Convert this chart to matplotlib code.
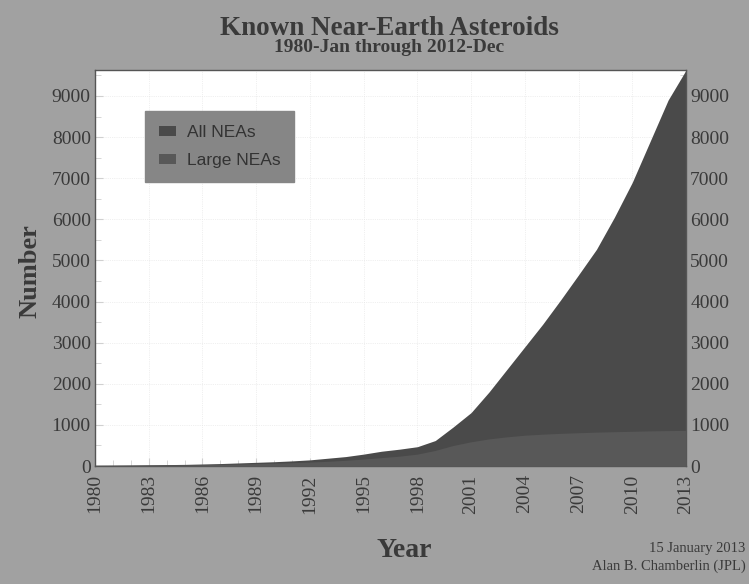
import matplotlib
matplotlib.use("Agg")
import matplotlib.pyplot as plt
from matplotlib.patches import Patch

years = list(range(1980, 2014))
all_neas = [20, 22, 25, 30, 35, 40, 50, 60, 75, 90, 105, 125, 150, 190, 230, 290,
            360, 410, 470, 620, 950, 1300, 1800, 2350, 2900, 3450, 4040, 4650,
            5270, 6050, 6900, 7900, 8900, 9630]
large_neas = [15, 17, 19, 22, 26, 30, 35, 42, 50, 60, 70, 82, 97, 115, 140, 170,
              205, 240, 290, 380, 500, 590, 660, 710, 750, 775, 795, 810, 825,
              835, 845, 855, 862, 868]
xtick_years = list(range(1980, 2014, 3))
yticks = list(range(0, 10000, 1000))

serif = ["Liberation Serif", "DejaVu Serif"]
fig_bg = "#a1a1a1"
txt = "#3a3a3a"

fig = plt.figure(figsize=(7.49, 5.84), dpi=100, facecolor=fig_bg)
ax = fig.add_axes([0.1268, 0.202, 0.7891, 0.678])
ax.set_facecolor("white")

ax.fill_between(years, 0, all_neas, color="#4a4a4a", linewidth=0, zorder=2)
ax.fill_between(years, 0, large_neas, color="#585858", linewidth=0, zorder=3)

ax.set_xlim(1980, 2013)
ax.set_ylim(0, max(all_neas))
ax.set_xticks(xtick_years)
ax.set_xticks(years, minor=True)
ax.set_xticklabels([str(y) for y in xtick_years], rotation=90,
                   family=serif, fontsize=14, color=txt)
ax.set_yticks(yticks)
ax.set_yticks(list(range(0, 10000, 500)), minor=True)
ax.set_yticklabels([str(v) for v in yticks], family=serif, fontsize=14, color=txt)
ax.tick_params(axis="both", which="both", direction="in", color="#d0d0d0",
               labelright=True, right=True, top=False)
ax.tick_params(axis="y", which="major", length=6, width=0.8, pad=3)
ax.tick_params(axis="x", which="major", length=6, width=0.8, pad=6)
ax.tick_params(axis="both", which="minor", length=4, width=0.6)

ax.grid(True, which="major", color="#e2e2e2", linewidth=0.5, linestyle=":", zorder=1)
ax.set_axisbelow(True)
for s in ax.spines.values():
    s.set_color("#555555")
    s.set_linewidth(1.0)

fig.text(0.520, 0.952, "Known Near-Earth Asteroids", ha="center", va="center",
         family=serif, fontsize=19.5, fontweight="bold", color=txt)
fig.text(0.520, 0.918, "1980-Jan through 2012-Dec", ha="center", va="center",
         family=serif, fontsize=14, fontweight="bold", color=txt)
fig.text(0.040, 0.535, "Number", ha="center", va="center", rotation=90,
         family=serif, fontsize=19, fontweight="bold", color=txt)
fig.text(0.540, 0.058, "Year", ha="center", va="center",
         family=serif, fontsize=20, fontweight="bold", color=txt)
fig.text(0.995, 0.061, "15 January 2013", ha="right", va="center",
         family=serif, fontsize=10.5, color=txt)
fig.text(0.995, 0.030, "Alan B. Chamberlin (JPL)", ha="right", va="center",
         family=serif, fontsize=10.5, color=txt)

handles = [Patch(facecolor="#4a4a4a", edgecolor="none", label="All NEAs"),
           Patch(facecolor="#585858", edgecolor="none", label="Large NEAs")]
leg = ax.legend(handles=handles, loc="upper left", bbox_to_anchor=(0.0846, 0.896),
                borderaxespad=0.0,
                frameon=True, fancybox=False, facecolor="#868686", edgecolor="#868686",
                framealpha=1.0, prop={"family": ["Liberation Sans", "DejaVu Sans"], "size": 12.5},
                handlelength=1.0, handleheight=0.55, handletextpad=0.6,
                borderpad=0.8, labelspacing=0.75)
for t in leg.get_texts():
    t.set_color("#333333")

fig.savefig("out.png", dpi=100, facecolor=fig_bg)
